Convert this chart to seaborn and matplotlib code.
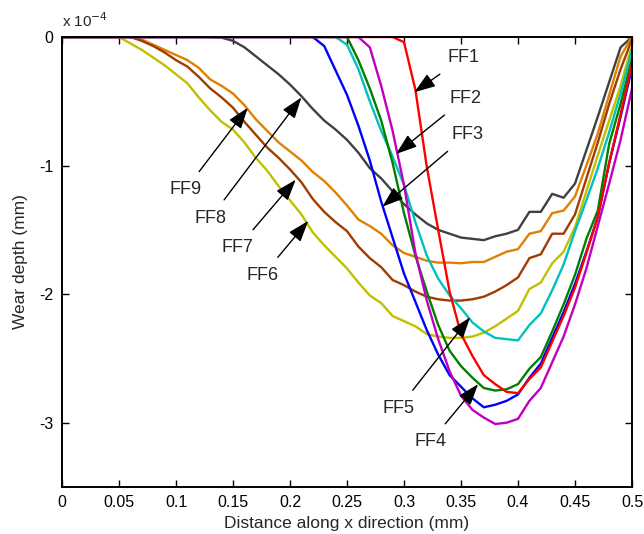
import numpy as np
import pandas as pd
import matplotlib
matplotlib.use("Agg")
import matplotlib.pyplot as plt
import seaborn as sns

# x positions (mm)
x_mm = [round(0.01 * i, 2) for i in range(51)]

# wear depth values, units of 1e-4 mm
ff1 = [0]*30 + [-0.04, -0.41, -1.01, -1.50, -1.98, -2.31, -2.48, -2.63, -2.70, -2.76,
                -2.77, -2.66, -2.57, -2.37, -2.17, -1.95, -1.68, -1.40, -0.98, -0.60, -0.21]
ff2 = [0]*27 + [-0.08, -0.38, -0.73, -1.15, -1.68, -2.05, -2.35, -2.60, -2.79, -2.90, -2.96,
                -3.01, -3.00, -2.97, -2.83, -2.73, -2.53, -2.33, -2.08, -1.80, -1.47, -1.14,
                -0.80, -0.40]
ff3 = [0]*23 + [-0.07, -0.26, -0.45, -0.69, -0.96, -1.28, -1.56, -1.84, -2.06, -2.28, -2.47,
                -2.63, -2.72, -2.81, -2.88, -2.86, -2.83, -2.78, -2.65, -2.54, -2.34, -2.14,
                -1.92, -1.67, -1.40, -0.98, -0.62, -0.24]
ff4 = [0]*26 + [-0.18, -0.40, -0.65, -0.98, -1.37, -1.70, -1.98, -2.24, -2.44, -2.56, -2.65,
                -2.73, -2.75, -2.74, -2.70, -2.58, -2.49, -2.29, -2.08, -1.85, -1.57, -1.35,
                -0.83, -0.52, -0.17]
ff5 = [0]*25 + [-0.06, -0.25, -0.50, -0.73, -0.93, -1.15, -1.44, -1.70, -1.88, -2.01, -2.11,
                -2.22, -2.29, -2.34, -2.35, -2.36, -2.24, -2.15, -1.97, -1.77, -1.51, -1.27,
                -1.02, -0.74, -0.44, -0.10]
ff6 = [0]*6 + [-0.05, -0.10, -0.16, -0.22, -0.29, -0.36, -0.47, -0.57, -0.66, -0.72, -0.82,
               -0.94, -1.04, -1.16, -1.27, -1.38, -1.52, -1.62, -1.71, -1.80, -1.91, -2.01,
               -2.07, -2.17, -2.21, -2.25, -2.31, -2.33, -2.34, -2.34, -2.33, -2.30, -2.25,
               -2.19, -2.13, -1.96, -1.91, -1.76, -1.67, -1.48, -1.20, -0.92, -0.65, -0.38,
               -0.06]
ff7 = [0]*7 + [-0.03, -0.07, -0.12, -0.18, -0.23, -0.31, -0.40, -0.47, -0.55, -0.66, -0.76,
               -0.86, -0.94, -1.03, -1.13, -1.26, -1.36, -1.44, -1.51, -1.63, -1.72, -1.79,
               -1.89, -1.93, -1.98, -2.02, -2.04, -2.05, -2.05, -2.04, -2.02, -1.98, -1.93,
               -1.87, -1.72, -1.69, -1.53, -1.53, -1.38, -1.10, -0.82, -0.52, -0.25, -0.02]
ff8 = [0]*14 + [-0.005, -0.03, -0.08, -0.15, -0.22, -0.29, -0.37, -0.46, -0.56, -0.65, -0.72,
                -0.80, -0.90, -1.02, -1.10, -1.20, -1.30, -1.38, -1.45, -1.50, -1.53, -1.56,
                -1.57, -1.58, -1.55, -1.53, -1.50, -1.36, -1.36, -1.22, -1.25, -1.14, -0.88,
                -0.62, -0.35, -0.08, 0.0]
ff9 = [0]*7 + [-0.02, -0.06, -0.10, -0.14, -0.18, -0.24, -0.33, -0.38, -0.44, -0.53, -0.64,
               -0.73, -0.82, -0.89, -0.96, -1.05, -1.12, -1.21, -1.31, -1.42, -1.47, -1.53,
               -1.62, -1.68, -1.71, -1.74, -1.755, -1.755, -1.76, -1.75, -1.75, -1.71, -1.67,
               -1.65, -1.53, -1.51, -1.37, -1.35, -1.24, -1.00, -0.75, -0.45, -0.15, 0.0]

series_names = ["FF8", "FF9", "FF7", "FF6", "FF5", "FF3", "FF4", "FF1", "FF2"]
series_vals = {"FF1": ff1, "FF2": ff2, "FF3": ff3, "FF4": ff4, "FF5": ff5,
               "FF6": ff6, "FF7": ff7, "FF8": ff8, "FF9": ff9}
colors = {"FF1": "#ff0000", "FF2": "#c000c0", "FF3": "#0000ff", "FF4": "#008000",
          "FF5": "#00c0c0", "FF6": "#c0c000", "FF7": "#a03c00", "FF8": "#404040",
          "FF9": "#e08000"}

# annotations: label, text position (x, y), arrow tip (x, y)
ann_labels = ["FF1", "FF2", "FF3", "FF4", "FF5", "FF6", "FF7", "FF8", "FF9"]
ann_text = [(0.352, -0.16), (0.354, -0.475), (0.356, -0.756), (0.323, -3.15), (0.295, -2.89),
            (0.176, -1.855), (0.154, -1.64), (0.130, -1.41), (0.108, -1.19)]
ann_tip = [(0.309, -0.43), (0.293, -0.91), (0.281, -1.32), (0.365, -2.70), (0.358, -2.18),
           (0.216, -1.43), (0.205, -1.11), (0.210, -0.47), (0.163, -0.55)]

rows = []
for name in series_names:
    for xv, yv in zip(x_mm, series_vals[name]):
        rows.append({"x": xv, "y": yv, "series": name})
df = pd.DataFrame(rows)

sns.set_style("ticks")
plt.rcParams["font.family"] = ["Liberation Sans", "DejaVu Sans"]

fig = plt.figure(figsize=(6.44, 5.34), dpi=100)
ax = fig.add_axes([62/644, 1 - 487/534, 570/644, 450/534])

sns.lineplot(data=df, x="x", y="y", hue="series", hue_order=series_names,
             palette=colors, linewidth=1.7, legend=False, ax=ax, estimator=None, sort=False)

ax.set_xlim(0, 0.5)
ax.set_ylim(-3.5, 0)
ax.set_xticks([0, 0.05, 0.1, 0.15, 0.2, 0.25, 0.3, 0.35, 0.4, 0.45, 0.5])
ax.set_xticklabels(["0", "0.05", "0.1", "0.15", "0.2", "0.25", "0.3", "0.35", "0.4", "0.45", "0.5"])
ax.set_yticks([0, -1, -2, -3])
ax.set_yticklabels(["0", "-1", "-2", "-3"])
ax.tick_params(direction="in", top=True, right=True, length=5, width=1,
               labelsize=11.5, colors="black", pad=6)
for s in ax.spines.values():
    s.set_visible(True)
    s.set_linewidth(1.4)
    s.set_color("black")

ax.set_xlabel("Distance along x direction (mm)", fontsize=12.5, labelpad=4)
ax.set_ylabel("Wear depth (mm)", fontsize=12.5, labelpad=8)
ax.text(0.0, 1.015, r"x 10$^{-4}$", transform=ax.transAxes, fontsize=11, ha="left", va="bottom")

for lab, (tx, ty), (px, py) in zip(ann_labels, ann_text, ann_tip):
    ax.annotate(lab, xy=(px, py), xytext=(tx, ty), fontsize=13, ha="center", va="center",
                arrowprops=dict(arrowstyle="-|>,head_length=1.0,head_width=0.35",
                                color="black", lw=1.0, shrinkA=6, shrinkB=0))

fig.savefig("out.png", dpi=100)
